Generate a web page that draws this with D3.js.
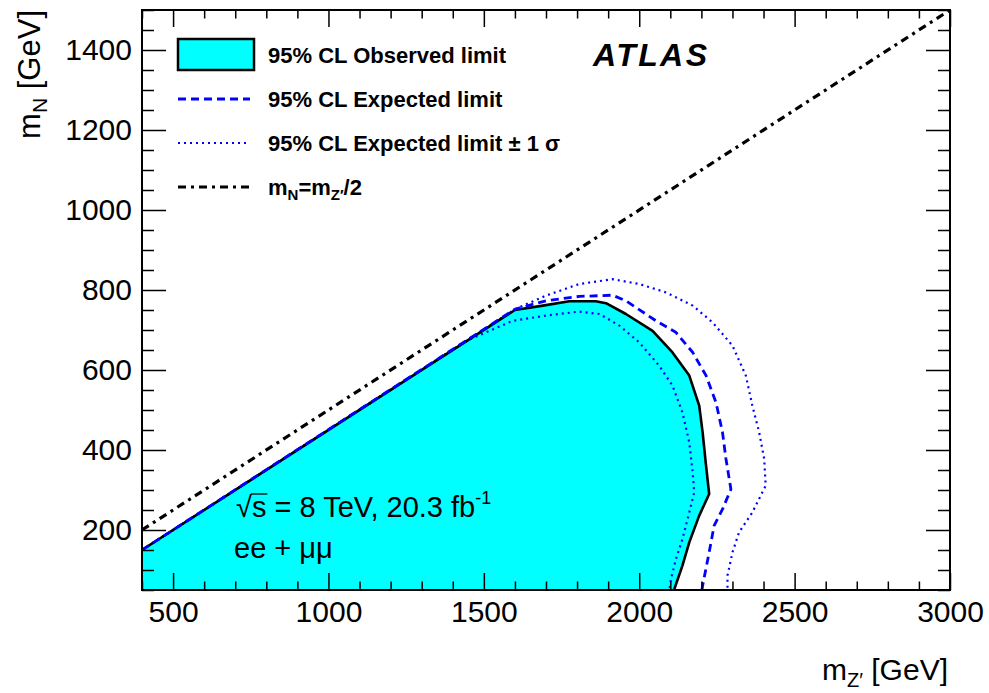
<!DOCTYPE html>
<html>
<head>
<meta charset="utf-8">
<script src="https://cdn.jsdelivr.net/npm/d3@7"></script>
<style>
  body { margin: 0; background: #fff; }
  svg { display: block; font-family: "Liberation Sans", Arial, Helvetica, sans-serif; }
  .tick line { stroke: #000; stroke-width: 1.5; }
</style>
</head>
<body>
<svg id="chart" width="989" height="693"></svg>
<script>
// ─── Data (mZ' [GeV], mN [GeV]) ───────────────────────────────────────────────
const X_DOMAIN = [400, 3000];
const Y_DOMAIN = [50, 1500];
const X_MAJOR  = [500, 1000, 1500, 2000, 2500, 3000];
const Y_MAJOR  = [200, 400, 600, 800, 1000, 1200, 1400];

// mN = mZ'/2 line
const diagonal = [[400, 200], [3000, 1500]];

const observed = [
  [400, 150], [1600, 750], [1690, 761], [1775, 772], [1860, 772], [1893, 767],
  [1957, 740], [2043, 698], [2107, 644], [2161, 586], [2193, 511], [2204, 444],
  [2215, 361], [2225, 290], [2193, 236], [2161, 169], [2139, 111], [2112, 50]
];

const expected = [
  [400, 150], [1600, 752], [1700, 773], [1807, 784], [1914, 787], [1957, 773],
  [2054, 723], [2118, 694], [2172, 644], [2215, 586], [2247, 519], [2268, 444],
  [2279, 378], [2295, 302], [2268, 252], [2241, 211], [2225, 144], [2204, 61],
  [2202, 50]
];

const expPlus1 = [
  [400, 150], [1600, 752], [1700, 786], [1807, 815], [1914, 827], [2000, 815],
  [2086, 794], [2172, 761], [2236, 719], [2300, 661], [2343, 586], [2364, 511],
  [2386, 444], [2402, 378], [2407, 311], [2364, 244], [2321, 194], [2300, 144],
  [2284, 86], [2284, 50]
];

const expMinus1 = [
  [400, 150], [1450, 675], [1593, 723], [1700, 736], [1807, 746], [1872, 740],
  [1936, 711], [2000, 669], [2064, 611], [2107, 561], [2139, 494], [2161, 419],
  [2172, 344], [2177, 294], [2161, 244], [2139, 177], [2118, 127], [2102, 77],
  [2097, 50]
];

const legendLabels = [
  '95% CL Observed limit',
  '95% CL Expected limit',
  '95% CL Expected limit \u00b1 1 \u03c3'
];

// ─── Layout ──────────────────────────────────────────────────────────────────
const L = 142, R = 950, T = 10, B = 590;
const svg = d3.select('#chart');

const x = d3.scaleLinear().domain(X_DOMAIN).range([L, R]);
const y = d3.scaleLinear().domain(Y_DOMAIN).range([B, T]);
const line = d3.line().x(d => x(d[0])).y(d => y(d[1]));

svg.append('clipPath').attr('id', 'plot-clip')
  .append('rect').attr('x', L).attr('y', T).attr('width', R - L).attr('height', B - T);

const plot = svg.append('g').attr('clip-path', 'url(#plot-clip)');

// Observed excluded region, closed along the lower-left corner
const fillPts = [[X_DOMAIN[0], Y_DOMAIN[0]], ...observed];
plot.append('path')
  .attr('d', line(fillPts) + 'Z')
  .attr('fill', '#00ffff')
  .attr('stroke', 'none');

plot.append('path').attr('d', line(diagonal))
  .attr('fill', 'none').attr('stroke', '#000').attr('stroke-width', 3.2)
  .attr('stroke-dasharray', '8,5,3,5');

for (const pts of [expPlus1, expMinus1]) {
  plot.append('path').attr('d', line(pts))
    .attr('fill', 'none').attr('stroke', '#0000ff').attr('stroke-width', 2.2)
    .attr('stroke-dasharray', '2,4');
}

plot.append('path').attr('d', line(observed))
  .attr('fill', 'none').attr('stroke', '#000').attr('stroke-width', 2.6)
  .attr('stroke-linejoin', 'round');

plot.append('path').attr('d', line(expected))
  .attr('fill', 'none').attr('stroke', '#0000ff').attr('stroke-width', 2.8)
  .attr('stroke-dasharray', '8,5');

// ─── Axes (ticks inside, ROOT style) ─────────────────────────────────────────
const xMinor = d3.range(400, 3001, 100).filter(v => !X_MAJOR.includes(v));
const yMinor = d3.range(50, 1501, 50).filter(v => !Y_MAJOR.includes(v));

function axisGroup(axis, tx, ty) {
  const g = svg.append('g').attr('transform', `translate(${tx},${ty})`).call(axis);
  g.select('.domain').remove();
  return g;
}

axisGroup(d3.axisBottom(x).tickValues(X_MAJOR).tickSize(-17).tickPadding(11)
  .tickFormat(d3.format('d')), 0, B);
axisGroup(d3.axisBottom(x).tickValues(xMinor).tickSize(-8.5).tickFormat(''), 0, B);
axisGroup(d3.axisTop(x).tickValues(X_MAJOR).tickSize(-17).tickFormat(''), 0, T);
axisGroup(d3.axisTop(x).tickValues(xMinor).tickSize(-8.5).tickFormat(''), 0, T);

axisGroup(d3.axisLeft(y).tickValues(Y_MAJOR).tickSize(-24).tickPadding(10)
  .tickFormat(d3.format('d')), L, 0);
axisGroup(d3.axisLeft(y).tickValues(yMinor).tickSize(-12).tickFormat(''), L, 0);
axisGroup(d3.axisRight(y).tickValues(Y_MAJOR).tickSize(-24).tickFormat(''), R, 0);
axisGroup(d3.axisRight(y).tickValues(yMinor).tickSize(-12).tickFormat(''), R, 0);

svg.selectAll('.tick text')
  .attr('font-family', '"Liberation Sans", Arial, sans-serif')
  .attr('font-size', 30).attr('fill', '#000');

svg.append('rect')
  .attr('x', L).attr('y', T).attr('width', R - L).attr('height', B - T)
  .attr('fill', 'none').attr('stroke', '#000').attr('stroke-width', 2);

// Axis titles
const xt = svg.append('text').attr('x', 948).attr('y', 680)
  .attr('text-anchor', 'end').attr('font-size', 30);
xt.append('tspan').text('m');
xt.append('tspan').attr('font-size', 20).attr('dy', 7).text('Z\u2032');
xt.append('tspan').attr('dy', -7).text(' [GeV]');

const yt = svg.append('text').attr('transform', 'translate(40,10) rotate(-90)')
  .attr('text-anchor', 'end').attr('font-size', 31);
yt.append('tspan').text('m');
yt.append('tspan').attr('font-size', 21).attr('dy', 7).text('N');
yt.append('tspan').attr('dy', -7).text(' [GeV]');

// ─── Legend ──────────────────────────────────────────────────────────────────
const lg = svg.append('g');
const rowY = [55, 99, 143, 187];
const sx0 = 178, sx1 = 250, tx = 268;

lg.append('rect').attr('x', sx0).attr('y', 39).attr('width', 76).attr('height', 31)
  .attr('fill', '#00ffff').attr('stroke', '#000').attr('stroke-width', 2.5);
lg.append('line').attr('x1', sx0).attr('x2', sx1).attr('y1', rowY[1]).attr('y2', rowY[1])
  .attr('stroke', '#0000ff').attr('stroke-width', 2.8).attr('stroke-dasharray', '8,5');
lg.append('line').attr('x1', sx0).attr('x2', sx1).attr('y1', rowY[2]).attr('y2', rowY[2])
  .attr('stroke', '#0000ff').attr('stroke-width', 2.2).attr('stroke-dasharray', '2,4');
lg.append('line').attr('x1', sx0).attr('x2', sx1).attr('y1', rowY[3]).attr('y2', rowY[3])
  .attr('stroke', '#000').attr('stroke-width', 3.2).attr('stroke-dasharray', '8,5,3,5');

legendLabels.forEach((t, i) => {
  lg.append('text').attr('x', tx).attr('y', rowY[i] + 8)
    .attr('font-size', 22).attr('font-weight', 'bold').text(t);
});
const l4 = lg.append('text').attr('x', tx).attr('y', rowY[3] + 8)
  .attr('font-size', 22).attr('font-weight', 'bold');
l4.append('tspan').text('m');
l4.append('tspan').attr('font-size', 15).attr('dy', 5).text('N');
l4.append('tspan').attr('dy', -5).text('=m');
l4.append('tspan').attr('font-size', 15).attr('dy', 5).text('Z\u2032');
l4.append('tspan').attr('dy', -5).text('/2');

// ATLAS label
svg.append('text').attr('x', 593).attr('y', 66)
  .attr('font-size', 32).attr('font-weight', 'bold').attr('font-style', 'italic')
  .attr('textLength', 114).attr('lengthAdjust', 'spacing')
  .text('ATLAS');

// ─── Annotation ──────────────────────────────────────────────────────────────
const an = svg.append('text').attr('x', 236).attr('y', 517).attr('font-size', 29);
an.append('tspan').text('\u221a');
an.append('tspan').text('s');
an.append('tspan').text(' = 8 TeV, 20.3 fb');
an.append('tspan').attr('font-size', 18).attr('dy', -13).text('-1');

// overbar of the radical over "s"
const node = an.node();
const rootBox = node.getExtentOfChar(0);
const sBox = node.getExtentOfChar(1);
svg.append('line')
  .attr('x1', rootBox.x + rootBox.width - 1).attr('x2', sBox.x + sBox.width + 1)
  .attr('y1', rootBox.y + 3).attr('y2', rootBox.y + 3)
  .attr('stroke', '#000').attr('stroke-width', 1.3);

svg.append('text').attr('x', 234).attr('y', 558).attr('font-size', 29)
  .text('ee + \u03bc\u03bc');
</script>
</body>
</html>
